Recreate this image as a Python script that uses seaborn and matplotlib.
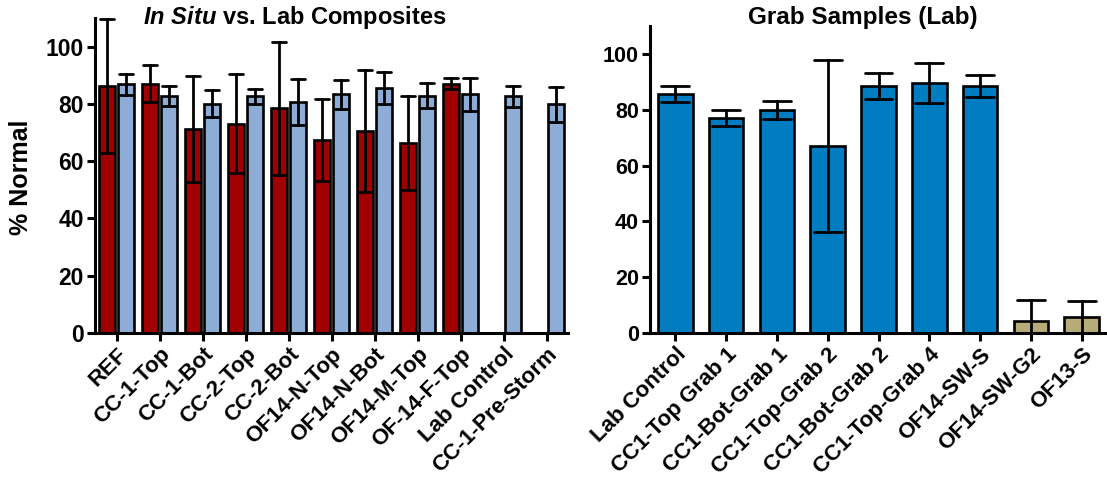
import numpy as np
import pandas as pd
import seaborn as sns
import matplotlib.pyplot as plt

# --- data ---
composite_sites = ['REF', 'CC-1-Top', 'CC-1-Bot', 'CC-2-Top', 'CC-2-Bot', 'OF14-N-Top',
                   'OF14-N-Bot', 'OF14-M-Top', 'OF-14-F-Top', 'Lab Control', 'CC-1-Pre-Storm']
in_situ_mean = [86.3, 87.1, 71.3, 73.1, 78.4, 67.5, 70.5, 66.5, 87.1, None, None]
in_situ_err = [23.3, 6.5, 18.5, 17.3, 23.2, 14.3, 21.3, 16.4, 1.9, None, None]
lab_mean = [86.8, 82.6, 80.1, 82.6, 80.7, 83.3, 85.4, 82.9, 83.3, 82.6, 79.8]
lab_err = [3.8, 3.5, 4.6, 2.7, 8.0, 5.1, 5.6, 4.5, 5.8, 3.8, 6.0]

grab_samples = ['Lab Control', 'CC1-Top Grab 1', 'CC1-Bot-Grab 1', 'CC1-Top-Grab 2',
                'CC1-Bot-Grab 2', 'CC1-Top-Grab 4', 'OF14-SW-S', 'OF14-SW-G2', 'OF13-S']
grab_mean = [85.7, 76.9, 79.9, 67.1, 88.4, 89.6, 88.6, 4.2, 5.7]
grab_err = [2.8, 2.9, 3.3, 30.8, 4.7, 7.2, 4.0, 7.5, 5.9]
grab_group = ['creek'] * 7 + ['outfall'] * 2


def spread(names, means, errs, label):
    # two rows per bar (mean - err, mean + err) so seaborn's min/max interval gives the bar
    rows = []
    for n, m, e in zip(names, means, errs):
        if m is None:
            continue
        rows.append({'site': n, 'value': m - e, 'kind': label})
        rows.append({'site': n, 'value': m + e, 'kind': label})
    return rows


def minmax(x):
    return (np.min(x), np.max(x))


comp_df = pd.DataFrame(spread(composite_sites, in_situ_mean, in_situ_err, 'In Situ')
                       + spread(composite_sites, lab_mean, lab_err, 'Lab'))
grab_rows = []
for n, m, e, g in zip(grab_samples, grab_mean, grab_err, grab_group):
    grab_rows += spread([n], [m], [e], g)
grab_df = pd.DataFrame(grab_rows)

# --- style ---
sns.set_style('ticks')
plt.rcParams['font.family'] = ['Liberation Sans', 'DejaVu Sans']
plt.rcParams['font.weight'] = 'bold'
plt.rcParams['mathtext.fontset'] = 'custom'
plt.rcParams['mathtext.it'] = 'Liberation Sans:italic:bold'
plt.rcParams['mathtext.rm'] = 'Liberation Sans:bold'
for key in ('text.color', 'axes.labelcolor', 'xtick.color', 'ytick.color', 'axes.edgecolor'):
    plt.rcParams[key] = 'black'

W, H = 1107, 492
fig = plt.figure(figsize=(W / 100, H / 100), dpi=100)
ax1 = fig.add_axes([95 / W, 1 - 333 / H, (568 - 95) / W, (333 - 18) / H])
ax2 = fig.add_axes([650 / W, 1 - 333 / H, (1107 - 650) / W, (333 - 26) / H])

bar_lw = 1.9
err_kws = {'color': 'black', 'linewidth': 2.0}

sns.barplot(data=comp_df, x='site', y='value', hue='kind', order=composite_sites,
            hue_order=['In Situ', 'Lab'], palette={'In Situ': '#A00000', 'Lab': '#8DADD6'},
            estimator='mean', errorbar=minmax, capsize=0.65, err_kws=err_kws,
            width=0.88, gap=0.12, edgecolor='black', linewidth=bar_lw,
            saturation=1, legend=False, ax=ax1)

sns.barplot(data=grab_df, x='site', y='value', hue='kind', order=grab_samples,
            palette={'creek': '#007DC1', 'outfall': '#B6AB79'}, dodge=False,
            estimator='mean', errorbar=minmax, capsize=0.55, err_kws=err_kws,
            width=0.68, edgecolor='black', linewidth=bar_lw,
            saturation=1, legend=False, ax=ax2)

for ax in (ax1, ax2):
    ax.set_ylim(0, 110)
    ax.set_yticks([0, 20, 40, 60, 80, 100])
    ax.set_xlabel('')
    ax.set_ylabel('')
    sns.despine(ax=ax)
    for s in ('left', 'bottom'):
        ax.spines[s].set_linewidth(2.2)
    ax.tick_params(axis='both', length=6, width=2.2, pad=2)
    ax.tick_params(axis='x', labelsize=16)
    plt.setp(ax.get_xticklabels(), rotation=45, ha='right', rotation_mode='anchor',
             fontweight='bold')
    plt.setp(ax.get_yticklabels(), fontweight='bold')

ax1.tick_params(axis='y', labelsize=16.5)
ax2.tick_params(axis='y', labelsize=15.5)
ax1.set_xlim(-0.5, len(composite_sites) - 0.5)
ax2.set_xlim(-0.5, len(grab_samples) - 0.5)

fig.text(295 / W, 1 - 24 / H, r'$\mathit{In\ Situ}$ vs. Lab Composites', ha='center',
         va='baseline', fontsize=17, fontweight='bold')
fig.text(863 / W, 1 - 24 / H, 'Grab Samples (Lab)', ha='center', va='baseline',
         fontsize=17.5, fontweight='bold')
fig.text(21 / W, 1 - 177 / H, '% Normal', rotation=90, ha='center', va='center',
         fontsize=18, fontweight='bold')

fig.savefig('out.png', dpi=100, facecolor='white')
